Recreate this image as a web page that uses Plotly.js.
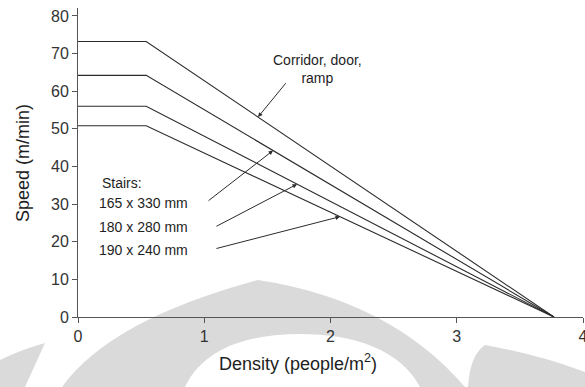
<!DOCTYPE html>
<html>
<head>
<meta charset="utf-8">
<script src="https://cdn.plot.ly/plotly-3.0.1.min.js"></script>
<style>
html,body{margin:0;padding:0;background:#fff;}
#chart{width:585px;height:387px;}
</style>
</head>
<body>
<div id="chart"></div>
<script>
// Data
var density = [0, 0.54, 3.77];              // people/m2: start, end of plateau, zero speed
var corridorSpeed = [73.2, 73.2, 0];         // Corridor, door, ramp
var stairs165Speed = [64.2, 64.2, 0];        // Stairs 165 x 330 mm
var stairs180Speed = [56.0, 56.0, 0];        // Stairs 180 x 280 mm
var stairs190Speed = [50.8, 50.8, 0];        // Stairs 190 x 240 mm
var xTicks = [0, 1, 2, 3, 4];
var yTicks = [0, 10, 20, 30, 40, 50, 60, 70, 80];

var FONT = "Liberation Sans, Arial, Helvetica, sans-serif";
var lineColor = "#2b2b2b";

function valueAt(xs, ys, x) {
  for (var i = 0; i < xs.length - 1; i++) {
    if (x >= xs[i] && x <= xs[i + 1]) {
      var t = (x - xs[i]) / (xs[i + 1] - xs[i]);
      return ys[i] + t * (ys[i + 1] - ys[i]);
    }
  }
  return ys[ys.length - 1];
}

function mkLine(y, name) {
  return {
    x: density, y: y, type: "scatter", mode: "lines", name: name,
    line: {color: lineColor, width: 1.1}, hoverinfo: "skip"
  };
}

var traces = [
  mkLine(corridorSpeed, "Corridor, door, ramp"),
  mkLine(stairs165Speed, "165 x 330 mm"),
  mkLine(stairs180Speed, "180 x 280 mm"),
  mkLine(stairs190Speed, "190 x 240 mm")
];

// plot-area geometry (for decorative watermark in paper units)
var L = 78, R = 583, T = 8, B = 317;
function px(x) { return ((x - L) / (R - L)).toFixed(4); }
function py(y) { return ((B - y) / (B - T)).toFixed(4); }
function P(x, y) { return px(x) + "," + py(y); }

var wmColor = "#dadada";
var shapes = [
  {type: "path", xref: "paper", yref: "paper", layer: "below", line: {width: 0}, fillcolor: wmColor,
   path: "M" + P(62, 387) + " Q" + P(110, 320) + " " + P(258, 280) + " Q" + P(390, 300) + " " + P(465, 387) + " Z"},
  {type: "path", xref: "paper", yref: "paper", layer: "below", line: {width: 0}, fillcolor: "#ffffff",
   path: "M" + P(185, 387) + " C" + P(205, 345) + " " + P(255, 334) + " " + P(300, 334) + " C" + P(355, 334) + " " + P(400, 350) + " " + P(420, 387) + " Z"},
  {type: "path", xref: "paper", yref: "paper", layer: "below", line: {width: 0}, fillcolor: wmColor,
   path: "M" + P(0, 360) + " Q" + P(20, 350) + " " + P(45, 343) + " L" + P(25, 387) + " L" + P(0, 387) + " Z"},
  {type: "path", xref: "paper", yref: "paper", layer: "below", line: {width: 0}, fillcolor: wmColor,
   path: "M" + P(468, 387) + " Q" + P(470, 355) + " " + P(485, 345) + " Q" + P(540, 355) + " " + P(585, 372) + " L" + P(585, 387) + " Z"}
];

function arrow(xs, ys, headX, tailX, tailY) {
  return {
    x: headX, y: valueAt(xs, ys, headX), xref: "x", yref: "y",
    ax: tailX, ay: tailY, axref: "x", ayref: "y",
    text: "", showarrow: true, arrowhead: 2, arrowsize: 0.9, arrowwidth: 1, arrowcolor: lineColor
  };
}
function label(text, x, y, anchor) {
  return {
    x: x, y: y, xref: "x", yref: "y", text: text, showarrow: false,
    xanchor: anchor, yanchor: "middle", align: "center",
    font: {family: FONT, size: 14, color: "#1e1e1e"}
  };
}

var annotations = [
  arrow(density, corridorSpeed, 1.426, 1.655, 62.5),
  arrow(density, stairs165Speed, 1.545, 1.022, 30.6),
  arrow(density, stairs180Speed, 1.735, 1.085, 23.9),
  arrow(density, stairs190Speed, 2.075, 1.085, 18.1),
  label("Corridor, door,<br>ramp", 1.900, 66.0, "center"),
  label("Stairs:", 0.175, 35.5, "left"),
  label("165 x 330 mm", 0.150, 30.4, "left"),
  label("180 x 280 mm", 0.150, 24.0, "left"),
  label("190 x 240 mm", 0.150, 17.9, "left"),
  {text: "Speed (m/min)", xref: "paper", yref: "paper", x: -0.11, y: 0.5,
   xanchor: "center", yanchor: "middle", textangle: -90, showarrow: false,
   font: {family: FONT, size: 18, color: "#1e1e1e"}},
  {text: "Density (people/m<sup>2</sup>)", xref: "paper", yref: "paper", x: 0.435, y: -0.148,
   xanchor: "center", yanchor: "middle", showarrow: false,
   font: {family: FONT, size: 18, color: "#1e1e1e"}}
];

var layout = {
  width: 585, height: 387,
  margin: {l: L, r: 585 - R, t: T, b: 387 - B, pad: 0},
  paper_bgcolor: "#ffffff",
  plot_bgcolor: "rgba(0,0,0,0)",
  showlegend: false,
  font: {family: FONT, color: "#222"},
  xaxis: {
    range: [0, 4], tickvals: xTicks, ticktext: xTicks.map(String),
    ticks: "outside", ticklen: 5, tickcolor: "#555", tickwidth: 1,
    showline: true, linecolor: "#555", linewidth: 1,
    showgrid: false, zeroline: false, ticklabeloverflow: "allow",
    tickfont: {family: FONT, size: 16, color: "#333"}
  },
  yaxis: {
    range: [0, 82.1], tickvals: yTicks, ticktext: yTicks.map(String),
    ticks: "outside", ticklen: 5, tickcolor: "#555", tickwidth: 1,
    showline: true, linecolor: "#555", linewidth: 1,
    showgrid: false, zeroline: false,
    tickfont: {family: FONT, size: 16, color: "#333"}
  },
  shapes: shapes,
  annotations: annotations
};

Plotly.newPlot("chart", traces, layout, {staticPlot: true, displayModeBar: false});
</script>
</body>
</html>
